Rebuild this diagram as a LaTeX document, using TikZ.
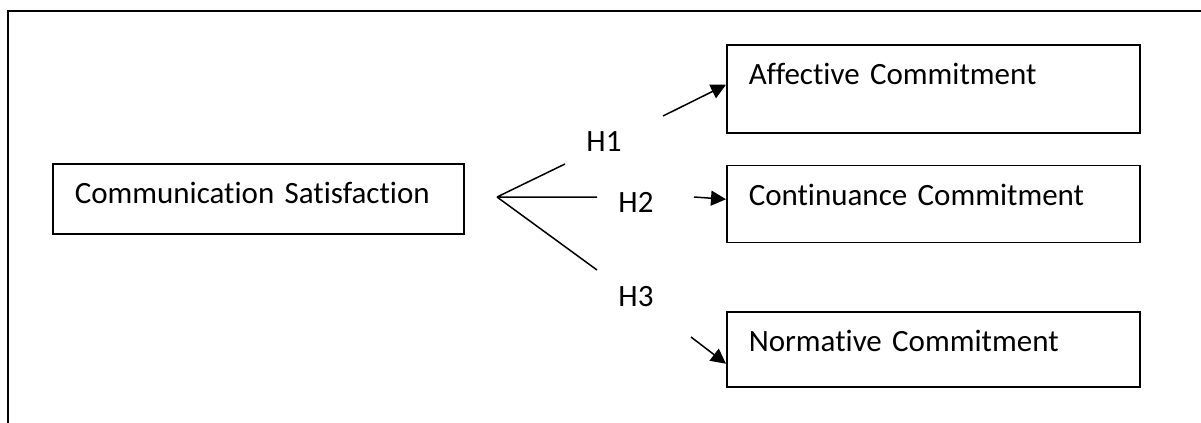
\documentclass[tikz,border=0pt]{standalone}
\usepackage{fontspec}
\setmainfont{Carlito}[Ligatures=NoCommon]
\usetikzlibrary{positioning,arrows.meta}
\newcommand\boxfont{\fontsize{15.5}{18}\selectfont\spaceskip=0.15em\relax}

\begin{document}
\begin{tikzpicture}[x=0.5pt,y=-0.5pt,line width=0.75pt,
   factor/.style={draw,anchor=north west,align=left,inner xsep=11pt,inner ysep=0pt,
                  text height=20pt,font=\boxfont},
   hyp/.style={inner sep=0pt,font=\fontsize{15.5}{18}\selectfont},
   >={Triangle[length=7.5pt,width=7.5pt]}]
   \useasboundingbox (0,0) rectangle (1201,423);
   \draw[line width=1pt] (8,423) -- (8,11) -- (1201,11);
   \node[factor,text width=183.5pt,text depth=15pt] (cs) at (52,163) {Communication Satisfaction};
   \node[factor,text width=184.5pt,text depth=24pt] (ac) at (726,44) {Affective Commitment};
   \node[factor,text width=184.5pt,text depth=18.5pt] (cc) [below=15.5pt of ac.south west,anchor=north west] {Continuance Commitment};
   \node[factor,text width=184.5pt,text depth=17.5pt] (nc) [below=34pt of cc.south west,anchor=north west] {Normative Commitment};
   % hypotheses
   \coordinate (fork) at (497,197);
   \coordinate (h1e) at (565,164);
   \coordinate (h2e) at (597,197);
   \coordinate (h3e) at (597,270);
   \node[hyp] (h1) at (604,142) {H1};
   \node[hyp] (h2) at (636,202) {H2};
   \node[hyp] (h3) at (636,297) {H3};
   \coordinate (a1s) at (663,116);
   \coordinate (a2s) at (694,197);
   \coordinate (a3s) at (691,337);
   \draw (fork) -- (h1e) (fork) -- (h2e) (fork) -- (h3e);
   \path[->]
    (a1s) edge ([yshift=2pt]ac.west)
    (a2s) edge ([yshift=2.25pt]cc.west)
    (a3s) edge ([yshift=-7.25pt]nc.west);
\end{tikzpicture}
\end{document}
